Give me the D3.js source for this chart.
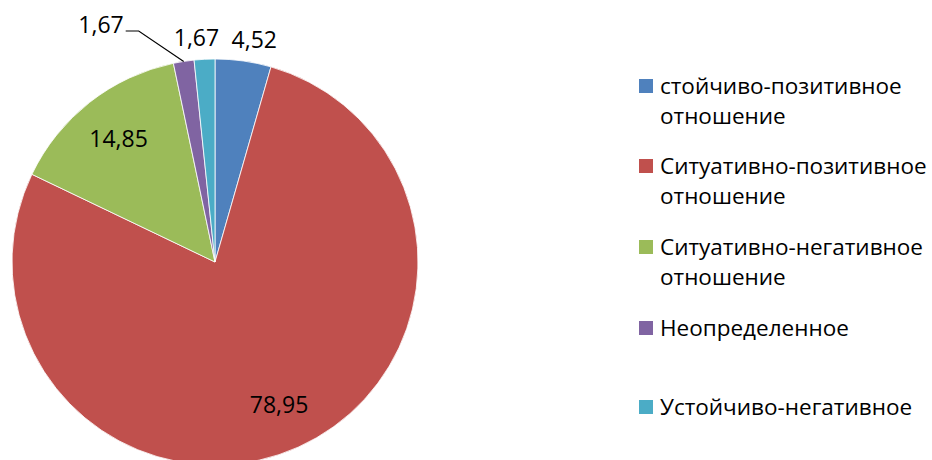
<!DOCTYPE html>
<html>
<head>
<meta charset="utf-8">
<script src="https://cdn.jsdelivr.net/npm/d3@7"></script>
<style>
  html, body { margin: 0; padding: 0; background: #fff; }
  svg { display: block; }
</style>
</head>
<body>
<svg id="chart"></svg>
<script>
const categories = [
  ["стойчиво-позитивное", "отношение"],
  ["Ситуативно-позитивное", "отношение"],
  ["Ситуативно-негативное", "отношение"],
  ["Неопределенное"],
  ["Устойчиво-негативное"]
];
const values = [4.52, 78.95, 14.85, 1.67, 1.67];
const valueLabels = ["4,52", "78,95", "14,85", "1,67", "1,67"];
const colors = ["#4F81BD", "#C0504D", "#9BBB59", "#8064A2", "#4BACC6"];

const width = 932, height = 460;
const cx = 215, cy = 262, radius = 203;
const font = "'Open Sans', sans-serif";

const svg = d3.select("#chart").attr("width", width).attr("height", height);

const data = values.map((v, i) => ({ value: v, label: valueLabels[i], name: categories[i], color: colors[i], i }));

// keep slice order as given, start at 12 o'clock, clockwise
const pie = d3.pie().value(d => d.value).sort(null);
const arcs = pie(data);

const arc = d3.arc().innerRadius(0).outerRadius(radius);
const insideArc = d3.arc().innerRadius(radius * 0.77).outerRadius(radius * 0.77);
const outsideArc = d3.arc().innerRadius(radius * 1.105).outerRadius(radius * 1.105);

const g = svg.append("g").attr("transform", `translate(${cx},${cy})`);

g.selectAll("path")
  .data(arcs)
  .join("path")
  .attr("d", arc)
  .attr("fill", d => d.data.color)
  .attr("stroke", "#fff")
  .attr("stroke-width", 0.8);

// labels: big slices inside, small ones outside
const labelSize = 23;
const isOutside = d => (d.endAngle - d.startAngle) < 0.5;

g.selectAll("text.val")
  .data(arcs.filter(d => d.data.i !== 3))
  .join("text")
  .attr("class", "val")
  .attr("transform", d => {
    let p;
    if (isOutside(d)) {
      p = outsideArc.centroid(d);
      p[0] += p[0] < 0 ? -7 : 8; // push outside labels apart sideways
    } else {
      p = insideArc.centroid(d);
    }
    return `translate(${p[0]},${p[1]})`;
  })
  .attr("text-anchor", "middle")
  .attr("dy", "0.35em")
  .style("font", `${labelSize}px ${font}`)
  .attr("fill", "#000")
  .text(d => d.data.label);

// purple slice gets a leader line to a label up-left
const purple = arcs[3];
const mid = (purple.startAngle + purple.endAngle) / 2;
const edge = [Math.sin(mid) * radius, -Math.cos(mid) * radius];
const elbow = [edge[0] - 45, -231];
const tail = [elbow[0] - 13, elbow[1]];
g.append("path")
  .attr("d", d3.line()([edge, elbow, tail]))
  .attr("fill", "none")
  .attr("stroke", "#000")
  .attr("stroke-width", 1.2);
g.append("text")
  .attr("x", tail[0] - 2)
  .attr("y", tail[1] - 6)
  .attr("text-anchor", "end")
  .attr("dy", "0.35em")
  .style("font", `${labelSize}px ${font}`)
  .text(purple.data.label);

// legend
const legendX = 639;
const rowY = [86, 166, 247, 328, 407];
const lineGap = 30;
const legend = svg.append("g");
data.forEach((d, i) => {
  const row = legend.append("g").attr("transform", `translate(${legendX},${rowY[i]})`);
  row.append("rect")
    .attr("x", 0).attr("y", -7)
    .attr("width", 14).attr("height", 14)
    .attr("fill", d.color);
  row.append("text")
    .style("font", `22.5px ${font}`)
    .attr("fill", "#000")
    .selectAll("tspan")
    .data(d.name)
    .join("tspan")
    .attr("x", 21)
    .attr("y", (t, j) => j * lineGap)
    .attr("dy", "0.35em")
    .text(t => t);
});
</script>
</body>
</html>
